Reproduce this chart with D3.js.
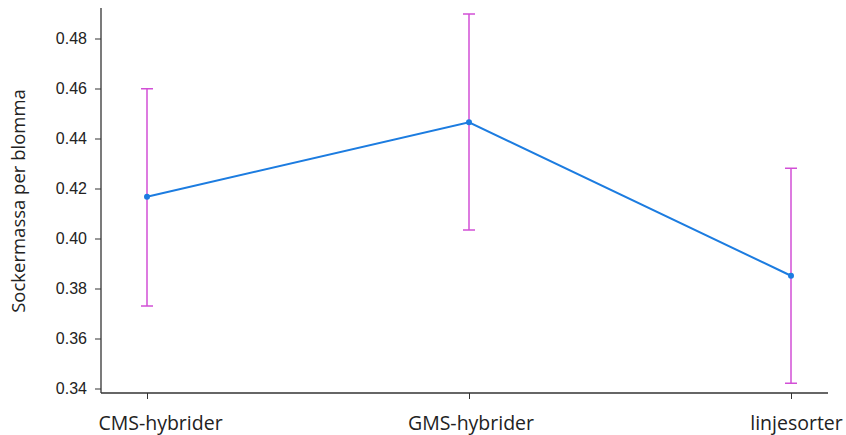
<!DOCTYPE html>
<html lang="sv">
<head>
  <meta charset="UTF-8">
  <title>Sockermassa per blomma</title>
  <script src="https://d3js.org/d3.v7.min.js"></script>
  <style>
    body { margin: 0; background: #fff; }
    svg { display: block; }
    .ytick text { font-family: "Liberation Sans", Arial, sans-serif; font-size: 16px; fill: #222; }
    .xtick text { font-family: "Open Sans", sans-serif; font-size: 19.5px; fill: #222; }
    .title { font-family: "Open Sans", sans-serif; font-size: 18.5px; fill: #222; }
  </style>
</head>
<body>
  <svg width="846" height="435"></svg>

  <script>
    const groups = [`CMS-hybrider`, `GMS-hybrider`, `linjesorter`];
    const means = [0.4167, 0.4465, 0.3851];
    const upper = [0.4599, 0.4898, 0.4281];
    const lower = [0.3730, 0.4034, 0.3421];
    const yTicks = [0.34, 0.36, 0.38, 0.40, 0.42, 0.44, 0.46, 0.48];

    const data = groups.map((g, i) => ({
      group: g, mean: means[i], hi: upper[i], lo: lower[i]
    }));

    const svg = d3.select(`svg`);
    const axisLeftX = 101;
    const axisBottomY = 393;

    const xScale = d3.scalePoint()
      .domain(groups)
      .range([147, 791]);

    const yScale = d3.scaleLinear()
      .domain([0.34, 0.48])
      .range([388.5, 38.5]);

    // axes
    const yAxis = d3.axisLeft(yScale)
      .tickValues(yTicks)
      .tickFormat(d3.format(`.2f`))
      .tickSize(6)
      .tickPadding(8);

    const yg = svg.append(`g`)
      .attr(`class`, `ytick`)
      .attr(`transform`, `translate(${axisLeftX}, 0)`)
      .call(yAxis);
    yg.select(`.domain`).remove();
    yg.selectAll(`line`).attr(`stroke`, `#333`);
    yg.append(`line`)
      .attr(`y1`, 8).attr(`y2`, axisBottomY)
      .attr(`stroke`, `#333`).attr(`stroke-width`, 1.3);

    const xAxis = d3.axisBottom(xScale)
      .tickSize(6);

    // labels in the original sit a little right of their ticks
    const labelShift = [13, 1.5, 5];

    const xg = svg.append(`g`)
      .attr(`class`, `xtick`)
      .attr(`transform`, `translate(0, ${axisBottomY})`)
      .call(xAxis);
    xg.select(`.domain`).remove();
    xg.selectAll(`line`).attr(`stroke`, `#333`);
    xg.selectAll(`text`)
      .attr(`y`, 37)
      .attr(`dy`, 0)
      .attr(`x`, (d, i) => labelShift[i]);
    xg.append(`line`)
      .attr(`x1`, axisLeftX).attr(`x2`, 828)
      .attr(`stroke`, `#333`).attr(`stroke-width`, 1.3);

    svg.append(`text`)
      .attr(`class`, `title`)
      .attr(`transform`, `translate(25, 201) rotate(-90)`)
      .attr(`text-anchor`, `middle`)
      .text(`Sockermassa per blomma`);

    // error bars
    const bars = svg.append(`g`)
      .attr(`stroke`, `#d24fd6`)
      .attr(`stroke-width`, 1.5);

    bars.selectAll(`.whisker`)
      .data(data)
      .enter()
      .append(`line`)
      .attr(`x1`, d => xScale(d.group))
      .attr(`x2`, d => xScale(d.group))
      .attr(`y1`, d => yScale(d.hi))
      .attr(`y2`, d => yScale(d.lo));

    [`hi`, `lo`].forEach(k => {
      bars.selectAll(`.cap-${k}`)
        .data(data)
        .enter()
        .append(`line`)
        .attr(`x1`, d => xScale(d.group) - 6)
        .attr(`x2`, d => xScale(d.group) + 6)
        .attr(`y1`, d => yScale(d[k]))
        .attr(`y2`, d => yScale(d[k]));
    });

    // mean line
    const line = d3.line()
      .x(d => xScale(d.group))
      .y(d => yScale(d.mean));

    svg.append(`path`)
      .datum(data)
      .attr(`d`, line)
      .attr(`fill`, `none`)
      .attr(`stroke`, `#1c7ce0`)
      .attr(`stroke-width`, 2);

    svg.selectAll(`circle`)
      .data(data)
      .enter()
      .append(`circle`)
      .attr(`cx`, d => xScale(d.group))
      .attr(`cy`, d => yScale(d.mean))
      .attr(`r`, 3)
      .attr(`fill`, `#1c7ce0`);
  </script>
</body>
</html>
